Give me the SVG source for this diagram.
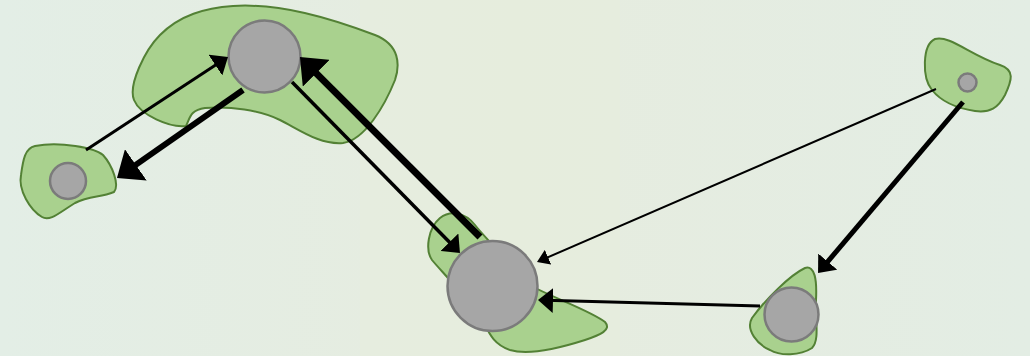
<svg xmlns="http://www.w3.org/2000/svg" width="1030" height="356" viewBox="0 0 1030 356">
<style>
.blob{fill:#a9d18e;stroke:#538135;stroke-width:2}
.dot{fill:#a6a6a6;stroke:#7b7b7b;stroke-width:2.5}
.e{stroke:#000;fill:none}
</style>
<defs>
<linearGradient id="bg" x1="0" y1="0" x2="1" y2="0">
<stop offset="0" stop-color="#e3eee6"/>
<stop offset="0.5" stop-color="#e6ecdf"/>
<stop offset="1" stop-color="#e3ede4"/>
</linearGradient>
<marker id="mS" markerUnits="userSpaceOnUse" viewBox="0 0 12 16" refX="6" refY="8" markerWidth="12" markerHeight="16" orient="auto"><path d="M0,0 L12,8 L0,16 Z" fill="#000"/></marker>
<marker id="mM" markerUnits="userSpaceOnUse" viewBox="0 0 15 25" refX="7.5" refY="12.5" markerWidth="15" markerHeight="25" orient="auto"><path d="M0,0 L15,12.5 L0,25 Z" fill="#000"/></marker>
<marker id="mL" markerUnits="userSpaceOnUse" viewBox="0 0 23 38" refX="11.5" refY="19" markerWidth="23" markerHeight="38" orient="auto"><path d="M0,0 L23,19 L0,38 Z" fill="#000"/></marker>
</defs>
<rect width="1030" height="356" fill="url(#bg)"/>
<rect x="360" y="0" width="260" height="356" fill="#e9eddb" opacity="0.3"/>
<g id="nodeA">
<path class="blob" d="M35,146 C60,141 95,148 103,155 C112,165 120,185 114,192 C100,198 90,195 75,203 C60,212 50,222 42,217 C30,210 18,190 21,175 C23,160 25,148 35,146 Z"/>
<circle class="dot" cx="68" cy="181" r="18"/>
</g>
<g id="nodeB">
<path class="blob" d="M233,6 C280,3 330,18 375,35 C400,45 400,65 395,80 C385,105 365,140 343,143 C320,145 300,130 280,120 C260,110 230,106 205,108 C190,110 190,118 186,126 C170,128 140,115 134,100 C128,85 145,50 160,35 C180,15 205,8 233,6 Z"/>
<circle class="dot" cx="264.5" cy="56.5" r="36"/>
</g>
<g id="nodeC">
<path class="blob" d="M440,218 C450,210 465,212 475,225 C485,238 500,250 520,280 C545,295 590,310 605,322 C612,330 600,335 585,340 C560,348 530,356 510,350 C495,345 490,335 485,325 C470,300 440,270 432,260 C425,250 428,228 440,218 Z"/>
<circle class="dot" cx="492.5" cy="286" r="45"/>
</g>
<g id="nodeD">
<path class="blob" d="M935,39 C950,35 970,55 1000,65 C1015,70 1012,80 1005,95 C998,108 990,113 975,111 C955,108 940,100 932,90 C922,78 922,45 935,39 Z"/>
<circle class="dot" cx="967.5" cy="82.5" r="9"/>
</g>
<g id="nodeE">
<path class="blob" d="M805,268 C815,265 817,280 816,300 C815,320 820,340 812,348 C800,356 780,356 770,350 C758,345 745,330 752,318 C765,300 790,275 805,268 Z"/>
<circle class="dot" cx="791.5" cy="314.5" r="27"/>
</g>
<g id="connectors">
<line class="e" x1="86" y1="150" x2="221.7" y2="61.1" stroke-width="3" marker-end="url(#mM)"/>
<line class="e" x1="243" y1="90" x2="126.4" y2="171.4" stroke-width="6" marker-end="url(#mL)"/>
<line class="e" x1="292" y1="82" x2="454.7" y2="247.6" stroke-width="3.5" marker-end="url(#mM)"/>
<line class="e" x1="480" y1="237" x2="308.1" y2="65.1" stroke-width="7" marker-end="url(#mL)"/>
<line class="e" x1="936" y1="89" x2="542.5" y2="259.6" stroke-width="2" marker-end="url(#mS)"/>
<line class="e" x1="963" y1="102" x2="822.9" y2="267.3" stroke-width="5" marker-end="url(#mM)"/>
<line class="e" x1="760" y1="306" x2="545.5" y2="300.2" stroke-width="3" marker-end="url(#mM)"/>
</g>
</svg>
